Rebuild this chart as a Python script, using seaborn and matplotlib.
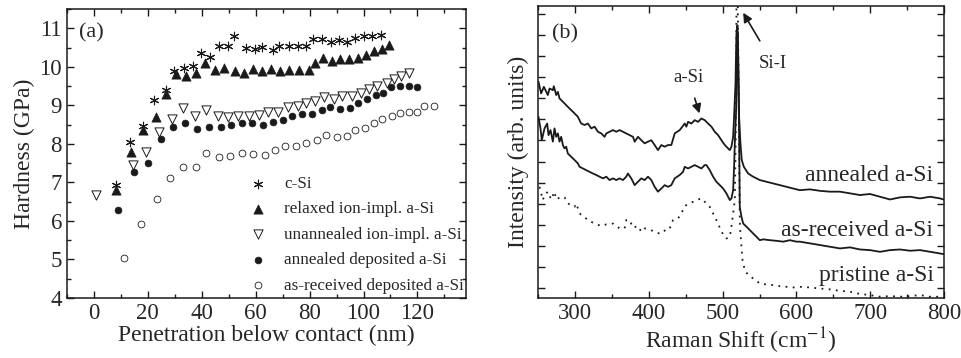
import matplotlib
matplotlib.use('Agg')
import matplotlib.pyplot as plt
import seaborn as sns
from matplotlib.ticker import MultipleLocator

# ---- panel (a): hardness vs penetration ----
csi_x = [8.2, 13.2, 18.1, 22.1, 26.8, 29.6, 33.4, 36.8, 39.9, 43.2, 46.3, 49.6, 51.9, 56.4, 59.8,
         62.2, 66.3, 68.8, 72.2, 75.7, 78.6, 81.1, 84.6, 88.1, 90.8, 93.9, 97.0, 100.1, 103.2, 106.3]
csi_y = [6.93, 8.06, 8.47, 9.13, 9.40, 9.90, 9.97, 10.01, 10.36, 10.25, 10.55, 10.53, 10.79, 10.48, 10.46,
         10.51, 10.44, 10.55, 10.55, 10.55, 10.55, 10.72, 10.72, 10.64, 10.70, 10.64, 10.74, 10.79, 10.79, 10.83]

relax_x = [8.2, 13.8, 18.1, 23.1, 26.8, 30.6, 34.3, 37.8, 41.1, 44.8, 48.3, 52.3, 55.8, 59.1, 62.2,
           65.6, 69.1, 72.5, 75.9, 79.6, 82.1, 85.0, 88.3, 91.2, 94.5, 97.9, 101.0, 103.9, 107.0, 109.4]
relax_y = [6.79, 7.80, 8.36, 8.69, 9.29, 9.82, 9.77, 9.84, 10.10, 9.92, 9.98, 9.90, 9.84, 9.94, 9.88,
           9.94, 9.88, 9.92, 9.92, 9.92, 10.11, 10.23, 10.16, 10.20, 10.20, 10.23, 10.31, 10.40, 10.46, 10.57]

unann_x = [0.7, 14.4, 19.4, 24.3, 29.1, 33.0, 37.4, 41.5, 46.1, 49.8, 53.5, 57.6, 61.4, 64.7, 68.4,
           71.9, 75.7, 78.7, 82.1, 85.5, 89.2, 92.0, 95.8, 98.9, 102.0, 105.1, 108.6, 111.3, 113.8, 116.9]
unann_y = [6.68, 7.45, 7.78, 8.30, 8.65, 8.94, 8.73, 8.88, 8.71, 8.69, 8.71, 8.71, 8.75, 8.82, 8.82,
           8.95, 8.97, 9.06, 9.10, 9.21, 9.17, 9.25, 9.25, 9.33, 9.42, 9.49, 9.59, 9.68, 9.77, 9.84]

anndep_x = [8.8, 14.8, 20.2, 24.7, 29.3, 33.9, 38.4, 42.7, 47.0, 50.8, 54.8, 58.5, 62.6, 66.3, 70.0,
            73.4, 77.1, 80.9, 84.6, 87.7, 91.4, 94.9, 98.0, 101.4, 104.5, 107.3, 110.3, 113.5, 116.9, 120.0]
anndep_y = [6.29, 7.28, 7.50, 8.12, 8.45, 8.54, 8.38, 8.45, 8.45, 8.49, 8.54, 8.55, 8.49, 8.58, 8.61,
            8.73, 8.77, 8.77, 8.88, 8.95, 8.91, 8.94, 9.07, 9.17, 9.27, 9.33, 9.47, 9.51, 9.51, 9.47]

asrec_x = [11.3, 17.3, 23.4, 28.1, 33.0, 37.8, 41.5, 46.3, 50.4, 54.8, 59.1, 63.5, 67.2, 71.0, 75.0,
           78.8, 82.7, 86.2, 90.2, 93.9, 96.8, 100.5, 103.9, 107.0, 110.7, 113.5, 116.9, 120.0, 122.5, 126.2]
asrec_y = [5.03, 5.92, 6.57, 7.11, 7.41, 7.39, 7.76, 7.67, 7.69, 7.76, 7.74, 7.71, 7.84, 7.95, 7.95,
           8.03, 8.10, 8.23, 8.19, 8.21, 8.35, 8.41, 8.55, 8.65, 8.73, 8.81, 8.82, 8.82, 8.97, 8.97]

# ---- panel (b): Raman spectra ----
ann_shift = [250.2, 253.8, 257.5, 262.9, 265.2, 269.7, 271.0, 274.2, 276.5, 278.7, 283.3, 287.8, 292.3,
             296.8, 299.1, 303.6, 308.1, 312.7, 317.2, 321.7, 326.3, 330.8, 335.3, 339.8, 342.1, 346.6,
             351.1, 355.7, 360.2, 364.7, 369.2, 373.8, 378.3, 380.6, 385.1, 389.6, 394.1, 398.7, 403.2,
             407.7, 412.2, 416.8, 421.3, 425.8, 430.3, 434.9, 441.7, 448.5, 450.7, 453.0, 457.5, 462.0,
             466.6, 471.1, 475.6, 480.1, 484.7, 489.2, 493.7, 498.2, 502.8, 507.3, 509.6, 511.8, 514.1,
             515.4, 517.3, 518.6, 520.0, 521.3, 522.2, 524.0, 525.8, 528.6, 534.5, 541.2, 550.3, 559.3,
             568.4, 577.4, 586.5, 595.5, 604.6, 618.2, 631.8, 645.3, 658.9, 672.5, 686.1, 699.6, 713.2,
             726.8, 740.4, 753.9, 767.5, 781.1, 794.7, 799.2]
ann_int = [10.78, 10.23, 10.54, 10.15, 10.46, 10.38, 10.57, 10.15, 10.30, 9.99, 9.83, 9.67, 9.51,
           9.36, 9.28, 9.12, 8.80, 8.73, 8.80, 8.57, 8.65, 8.41, 8.33, 8.17, 8.33, 8.41,
           8.49, 8.41, 8.49, 8.41, 8.33, 8.25, 8.17, 7.94, 8.17, 8.01, 7.86, 7.94, 8.01,
           7.78, 7.54, 7.78, 7.70, 7.78, 7.78, 8.33, 8.49, 8.80, 8.65, 8.88, 8.80, 8.96,
           8.88, 9.04, 8.96, 8.80, 8.65, 8.41, 8.25, 8.01, 7.78, 7.62, 7.54, 7.70, 8.17,
           9.12, 10.70, 13.09, 13.46, 11.49, 9.12, 7.86, 7.07, 6.75, 6.43, 6.28, 6.12, 6.04,
           5.96, 5.88, 5.80, 5.72, 5.64, 5.68, 5.61, 5.57, 5.57, 5.49, 5.41, 5.46, 5.33,
           5.20, 5.30, 5.33, 5.25, 5.33, 5.25, 5.20]

rec_shift = [250.2, 252.9, 254.7, 258.4, 262.0, 263.8, 266.5, 269.7, 271.9, 274.2, 276.5, 278.7, 281.0,
             283.3, 285.5, 287.8, 290.0, 292.3, 294.6, 296.8, 299.1, 301.4, 303.6, 305.9, 310.4, 314.9,
             319.5, 324.0, 328.5, 333.0, 337.6, 342.1, 346.6, 351.1, 355.7, 360.2, 364.7, 369.2, 371.5,
             376.0, 380.6, 385.1, 389.6, 394.1, 398.7, 403.2, 407.7, 412.2, 416.8, 421.3, 425.8, 430.3,
             434.9, 441.7, 446.2, 448.5, 453.0, 457.5, 462.0, 466.6, 471.1, 475.6, 477.9, 482.4, 486.9,
             491.4, 496.0, 500.5, 505.0, 509.6, 511.8, 514.1, 515.4, 516.8, 518.2, 519.1, 520.0, 521.3,
             522.2, 523.1, 525.4, 527.7, 532.2, 536.7, 541.2, 545.8, 550.3, 554.8, 563.9, 572.9, 582.0,
             591.0, 600.1, 604.6, 618.2, 631.8, 645.3, 658.9, 672.5, 686.1, 699.6, 713.2, 726.8, 740.4,
             753.9, 767.5, 781.1, 794.7, 799.2]
rec_int = [9.12, 8.57, 8.01, 8.57, 8.80, 8.25, 8.49, 7.94, 8.57, 8.17, 8.33, 7.94, 8.17,
           7.78, 7.62, 7.70, 7.38, 7.30, 7.22, 7.15, 7.07, 6.99, 6.91, 6.75, 6.67, 6.59,
           6.51, 6.43, 6.36, 6.28, 6.20, 6.28, 6.12, 6.20, 6.12, 6.20, 6.12, 6.28, 6.43,
           6.20, 5.88, 6.04, 6.20, 6.12, 6.28, 6.12, 5.80, 5.57, 5.72, 5.88, 5.80, 5.88,
           6.20, 6.36, 6.51, 6.75, 6.67, 6.75, 6.83, 6.75, 6.67, 6.83, 6.83, 6.59, 6.28,
           6.04, 5.88, 5.72, 5.49, 5.17, 5.25, 5.64, 6.75, 8.33, 9.44, 11.49, 13.15, 10.70,
           8.33, 4.85, 4.38, 4.06, 3.91, 3.75, 3.59, 3.43, 3.27, 3.31, 3.27, 3.24, 3.20,
           3.27, 3.20, 3.20, 3.12, 3.04, 2.96, 2.88, 2.93, 2.83, 2.80, 2.72, 2.80, 2.83,
           2.77, 2.80, 2.72, 2.64, 2.61]

pri_shift = [251.6, 253.8, 256.1, 258.4, 262.9, 267.4, 271.9, 274.2, 281.0, 285.5, 290.0, 294.6, 299.1,
             301.4, 305.9, 310.4, 319.5, 326.3, 335.3, 342.1, 351.1, 360.2, 367.0, 369.2, 373.8, 378.3,
             385.1, 389.6, 394.1, 400.9, 405.5, 410.0, 414.5, 419.0, 423.6, 428.1, 432.6, 439.4, 443.9,
             448.5, 455.2, 459.8, 466.6, 471.1, 475.6, 482.4, 489.2, 493.7, 498.2, 505.0, 509.6, 511.8,
             514.1, 516.4, 517.7, 518.8, 520.0, 521.3, 523.1, 524.0, 525.4, 526.8, 529.9, 534.5, 541.2,
             550.3, 559.3, 568.4, 577.4, 586.5, 595.5, 604.6, 618.2, 631.8, 645.3, 658.9, 672.5, 686.1,
             699.6, 713.2, 726.8, 740.4, 753.9, 767.5, 781.1, 794.7]
pri_int = [5.80, 5.49, 5.17, 5.41, 5.57, 5.20, 5.57, 5.20, 5.33, 5.30, 5.01, 4.93, 4.85,
           5.01, 4.54, 4.41, 4.18, 4.06, 3.94, 4.02, 4.06, 3.83, 3.83, 4.22, 4.22, 3.86,
           3.94, 3.67, 3.83, 3.78, 3.70, 3.62, 3.59, 3.62, 3.83, 3.83, 4.22, 4.30, 4.54,
           4.89, 5.01, 5.09, 5.20, 5.25, 5.09, 4.85, 4.38, 4.06, 3.67, 3.35, 3.43, 3.91,
           4.54, 5.17, 8.33, 15.5, 15.5, 11.49, 4.22, 3.59, 2.96, 2.33, 1.85, 1.62, 1.46,
           1.22, 1.17, 1.14, 1.09, 1.06, 1.03, 1.06, 1.03, 0.98, 0.94, 0.87, 0.83, 0.72,
           0.67, 0.59, 0.62, 0.59, 0.62, 0.67, 0.59, 0.59]

sns.set_theme(style='ticks')
plt.rcParams['font.family'] = ['Liberation Serif', 'DejaVu Serif']
plt.rcParams['mathtext.fontset'] = 'stix'
plt.rcParams['axes.linewidth'] = 1.1

fig = plt.figure(figsize=(9.62, 3.58), dpi=100)
ax1 = fig.add_axes([0.0696, 0.1676, 0.4148, 0.8073])
ax2 = fig.add_axes([0.5596, 0.1676, 0.4217, 0.8156])

sns.scatterplot(x=csi_x, y=csi_y, ax=ax1, marker=(6, 2, 0), s=38, color='k', linewidth=0.8, label='c-Si')
sns.scatterplot(x=relax_x, y=relax_y, ax=ax1, marker='^', s=44, color='k', edgecolor='k',
                linewidth=0.5, label='relaxed ion-impl. a-Si')
sns.scatterplot(x=unann_x, y=unann_y, ax=ax1, marker='v', s=44, facecolor='white', edgecolor='k',
                linewidth=0.7, label='unannealed ion-impl. a-Si')
sns.scatterplot(x=anndep_x, y=anndep_y, ax=ax1, marker='o', s=24, color='k', edgecolor='k',
                linewidth=0.5, label='annealed deposited a-Si')
sns.scatterplot(x=asrec_x, y=asrec_y, ax=ax1, marker='o', s=24, facecolor='white', edgecolor='k',
                linewidth=0.6, label='as-received deposited a-Si')

ax1.set_xlim(-10, 138)
ax1.set_ylim(4, 11.5)
ax1.xaxis.set_major_locator(MultipleLocator(20))
ax1.xaxis.set_minor_locator(MultipleLocator(10))
ax1.yaxis.set_major_locator(MultipleLocator(1))
ax1.yaxis.set_minor_locator(MultipleLocator(0.5))
ax1.set_xlabel('Penetration below contact (nm)', fontsize=17, labelpad=1)
ax1.set_ylabel('Hardness (GPa)', fontsize=17, labelpad=3)
ax1.text(-5.5, 10.88, '(a)', fontsize=16, va='center', ha='left')
ax1.legend(loc='lower left', bbox_to_anchor=(0.458, 0.015), frameon=False, fontsize=12.3,
           handlelength=1, handletextpad=1.0, labelspacing=0.55, borderpad=0, borderaxespad=0)

sns.lineplot(x=ann_shift, y=ann_int, ax=ax2, color='k', lw=1.3)
sns.lineplot(x=rec_shift, y=rec_int, ax=ax2, color='k', lw=1.3)
sns.lineplot(x=pri_shift, y=pri_int, ax=ax2, color='k', lw=1.3, linestyle=(0, (1, 3)))

ax2.set_xlim(250, 800)
ax2.set_ylim(0.53, 14.37)
ax2.xaxis.set_major_locator(MultipleLocator(100))
ax2.xaxis.set_minor_locator(MultipleLocator(50))
ax2.yaxis.set_major_locator(MultipleLocator(1))
ax2.set_yticklabels([])
ax2.set_xlabel(r'Raman Shift (cm$^{-1}$)', fontsize=17, labelpad=1)
ax2.set_ylabel('Intensity (arb. units)', fontsize=17, labelpad=3)
ax2.text(285.5, 13.07, '(b)', fontsize=16, va='center', ha='center')
ax2.text(785, 6.36, 'annealed a-Si', fontsize=17, ha='right', va='center')
ax2.text(785, 3.75, 'as-received a-Si', fontsize=17, ha='right', va='center')
ax2.text(786, 1.62, 'pristine a-Si', fontsize=17, ha='right', va='center')
ax2.annotate('a-Si', xy=(468.5, 9.28), xytext=(453, 11.0), fontsize=13.5, ha='center', va='center',
             arrowprops=dict(arrowstyle='-|>', color='k', lw=1.2, shrinkA=7, shrinkB=0))
ax2.annotate('Si-I', xy=(527.7, 14.05), xytext=(568.4, 11.65), fontsize=13.5, ha='center', va='center',
             arrowprops=dict(arrowstyle='-|>', color='k', lw=1.2, shrinkA=9, shrinkB=0))

for ax in (ax1, ax2):
    ax.tick_params(which='both', direction='in', top=True, right=True, labelsize=16.5, width=1, color='k')
    ax.tick_params(which='major', length=5)
    ax.tick_params(which='minor', length=3)
    for sp in ax.spines.values():
        sp.set_color('k')

fig.savefig('out.png', dpi=100)
